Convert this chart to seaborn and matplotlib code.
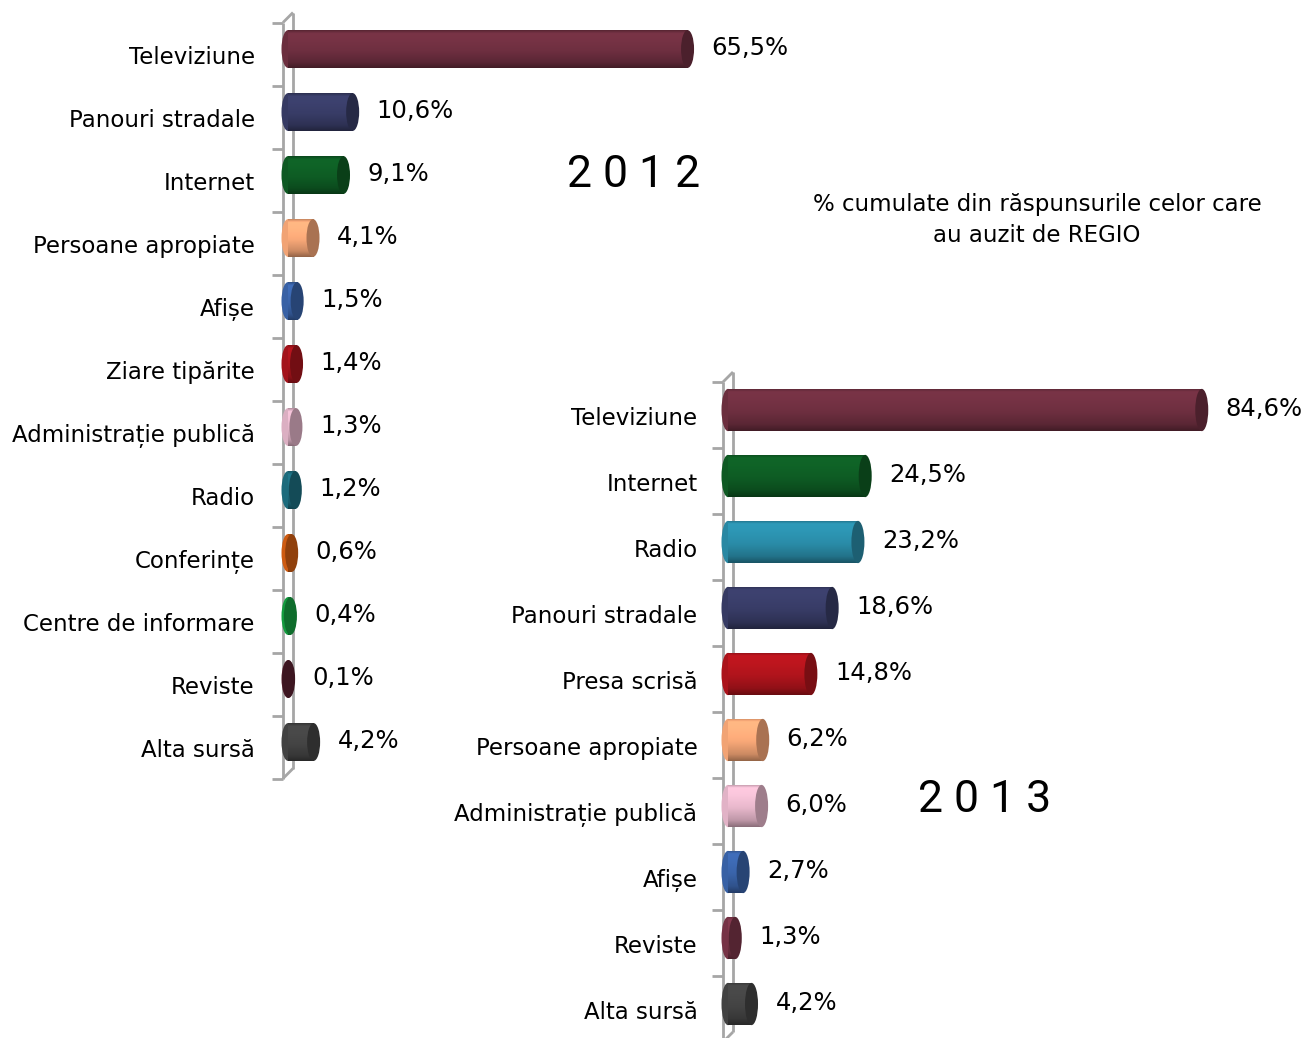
import matplotlib
matplotlib.use("Agg")
import matplotlib.pyplot as plt
import matplotlib.transforms as mtransforms
from matplotlib.patches import Ellipse
from matplotlib.colors import to_rgb
import numpy as np
import seaborn as sns

# 2012 data
cat_2012 = ["Televiziune", "Panouri stradale", "Internet", "Persoane apropiate", "Afișe",
            "Ziare tipărite", "Administrație publică", "Radio", "Conferințe",
            "Centre de informare", "Reviste", "Alta sursă"]
val_2012 = [65.5, 10.6, 9.1, 4.1, 1.5, 1.4, 1.3, 1.2, 0.6, 0.4, 0.1, 4.2]
col_2012 = ["#6e2f40", "#383c66", "#0e5c24", "#f8a878", "#3a64aa", "#a8141c",
            "#e2b4c8", "#1d6e80", "#d45e12", "#14a040", "#5a2030", "#444444"]

# 2013 data
cat_2013 = ["Televiziune", "Internet", "Radio", "Panouri stradale", "Presa scrisă",
            "Persoane apropiate", "Administrație publică", "Afișe", "Reviste", "Alta sursă"]
val_2013 = [84.6, 24.5, 23.2, 18.6, 14.8, 6.2, 6.0, 2.7, 1.3, 4.2]
col_2013 = ["#6e2f40", "#0e5c24", "#2a8ca8", "#383c66", "#b0141c",
            "#f8a878", "#e8b8cc", "#3a64aa", "#7a3548", "#444444"]

note = "% cumulate din răspunsurile celor care\nau auzit de REGIO"

sns.set_theme(style="white")
plt.rcParams["font.family"] = ["DejaVu Sans"]
plt.rcParams["text.color"] = "black"

W, H = 1306, 1038
fig = plt.figure(figsize=(W / 100, H / 100), dpi=100)

AXIS_GRAY = "#a6a6a6"
LABEL_SIZE = 16.5
VALUE_SIZE = 17.5


def shade(rgb, f):
    return tuple(min(1.0, max(0.0, c * f)) for c in rgb)


def cylinder_bars(ax, cats, vals, cols, width, xmax, label_pad):
    n = len(cats)
    sns.barplot(x=vals, y=cats, hue=cats, palette=cols, legend=False, orient="h",
                width=width, saturation=1, ax=ax, zorder=3)
    ax.set_xlim(0, xmax)
    ax.set_ylim(n - 0.5, -0.5)
    fig.canvas.draw()
    bbox = ax.get_window_extent()
    ppu = bbox.width / xmax
    a = 6.5 / ppu  # half width of the end ellipse in data units

    prof_t = np.linspace(0, 1, 60)
    prof_f = np.interp(prof_t, [0, 0.08, 0.25, 0.55, 0.85, 1.0],
                       [0.8, 1.1, 1.08, 1.0, 0.82, 0.6])

    for p, col in zip(ax.patches, cols):
        rgb = to_rgb(col)
        y, h, w = p.get_y(), p.get_height(), p.get_width()
        yc = y + h / 2
        p.set_edgecolor("none")
        # left rounded end
        ax.add_patch(Ellipse((0, yc), 2 * a, h, facecolor=shade(rgb, 0.97),
                             edgecolor="none", zorder=2.9, clip_on=False))
        if w > 0:
            grad = np.array([shade(rgb, f) for f in prof_f]).reshape(-1, 1, 3)
            im = ax.imshow(grad, extent=(0, w, y + h, y), aspect="auto",
                           origin="upper", zorder=3.1, interpolation="bilinear")
            im.set_clip_path(p)
        # end cap
        ax.add_patch(Ellipse((w, yc), 2 * a, h, facecolor=shade(rgb, 0.68),
                             edgecolor="none", zorder=3.2, clip_on=False))
        ax.annotate(f"{w:.1f}%".replace(".", ","), xy=(w, yc), xytext=(24, 1),
                    textcoords="offset pixels", ha="left", va="center",
                    fontsize=VALUE_SIZE, color="black", annotation_clip=False)

    ax.set_xlim(0, xmax)
    ax.set_ylim(n - 0.5, -0.5)
    ax.set_xticks([])
    ax.set_xlabel("")
    ax.set_ylabel("")
    for s in ax.spines.values():
        s.set_visible(False)
    ax.patch.set_alpha(0)
    ax.tick_params(axis="y", length=0, pad=label_pad, labelsize=LABEL_SIZE,
                   labelcolor="black")
    down = mtransforms.ScaledTranslation(0, -6 / 100, fig.dpi_scale_trans)
    for lab in ax.get_yticklabels():
        lab.set_transform(lab.get_transform() + down)

    # 3D-looking category axis: front line, back line, joins and ticks
    ytr = ax.get_yaxis_transform()
    front = ytr + mtransforms.ScaledTranslation(-5 / 100, -5 / 100, fig.dpi_scale_trans)
    back = ytr + mtransforms.ScaledTranslation(5 / 100, 5 / 100, fig.dpi_scale_trans)
    kw = dict(color=AXIS_GRAY, lw=2, zorder=1, clip_on=False, solid_capstyle="butt")
    ax.plot([0, 0], [-0.5, n - 0.5], transform=front, **kw)
    ax.plot([0, 0], [-0.5, n - 0.5], transform=back, **kw)
    for yb in (-0.5, n - 0.5):
        x0, y0 = front.transform((0, yb))
        x1, y1 = back.transform((0, yb))
        ax.add_line(plt.Line2D([x0, x1], [y0, y1], transform=None, **kw))
    for yb in np.arange(-0.5, n, 1.0):
        x0, y0 = front.transform((0, yb))
        ax.add_line(plt.Line2D([x0 - 11, x0], [y0, y0], transform=None, **kw))


# 2012 panel: mid-depth axis at x=288, rows 63 px, first row centre at y=49
ax1 = fig.add_axes([288 / W, 1 - 773.5 / H, 6.1 * 70 / W, 756 / H])
cylinder_bars(ax1, cat_2012, val_2012, col_2012, 0.6, 70, 24)

# 2013 panel: mid-depth axis at x=728, rows 66 px, first row centre at y=410
ax2 = fig.add_axes([728 / W, 1 - 1037 / H, 5.6 * 100 / W, 660 / H])
cylinder_bars(ax2, cat_2013, val_2013, col_2013, 0.64, 100, 22)

year_font = ["Roboto", "DejaVu Sans"]
fig.text(634 / W, 1 - 175 / H, "2 0 1 2", ha="center", va="center", fontsize=32,
         family=year_font)
fig.text(985 / W, 1 - 800 / H, "2 0 1 3", ha="center", va="center", fontsize=32,
         family=year_font)
fig.text(1037 / W, 1 - 220 / H, note, ha="center", va="center", fontsize=LABEL_SIZE,
         multialignment="center", linespacing=1.45)

fig.savefig("out.png", dpi=100)
plt.close(fig)
